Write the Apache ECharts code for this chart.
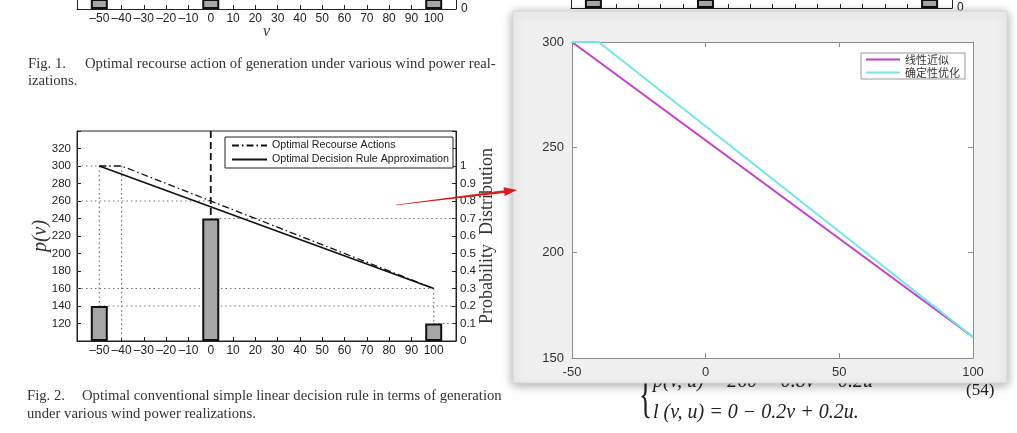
<!DOCTYPE html>
<html>
<head>
<meta charset="utf-8">
<title>p(v)</title>
<script src="https://cdn.jsdelivr.net/npm/echarts@6/dist/echarts.min.js"></script>
<style>
  html, body { margin: 0; padding: 0; background: #fff; }
  #main { width: 1017px; height: 433px; }
</style>
</head>
<body>
<div id="main"></div>
<script>
// ---- Fig. 2 (paper figure) ----
var windV = [-50, 0, 100];          // wind power realizations
var windProb = [0.2, 0.7, 0.1];     // probability of each realization
var ruleV = [-50, 100];
var ruleP = [300, 160];             // optimal decision rule approximation
var recourseV = [-50, -40, 100];
var recourseP = [300, 300, 160];    // optimal recourse actions
var jumpV = [0, 0];
var jumpP = [340, 244];             // dashed jump at v = 0
// dotted helper lines, [v, p] pairs
var guideLines = [
    [[-60, 300], [-50, 300]],
    [[-50, 300], [-50, 100]],
    [[-40, 300], [-40, 100]],
    [[-60, 260], [0, 260]],
    [[-60, 160], [100, 160]],
    [[100, 160], [100, 100]]
];
var vRange = [-60, 110];
var pRange = [100, 340];
var probRange = [0, 1.2];
var fig2Names = ['Optimal Recourse Actions', 'Optimal Decision Rule Approximation'];

// ---- overlay window (MATLAB figure) ----
var nearV = [-50, 100];
var nearP = [300, 160];
var detV = [-50, -40, 100];
var detP = [300, 300, 160];
var overlayNames = ['线性近似', '确定性优化'];
var overlayXRange = [-50, 100];
var overlayYRange = [150, 300];

var chart = echarts.init(document.getElementById('main'));

function pairs(xs, ys) {
    return xs.map(function (x, i) { return [x, ys[i]]; });
}
function minus(v) {
    return v < 0 ? '\u2013' + (-v) : String(v);
}
var sans = 'Liberation Sans';
var serif = 'Liberation Serif';
var ink = '#222';

// dotted guides
var guideSeries = guideLines.map(function (g) {
    return {
        type: 'line', xAxisIndex: 0, yAxisIndex: 0, data: g, symbol: 'none', silent: true,
        lineStyle: { color: '#777', width: 1.2, type: [1.5, 3] }, z: 1
    };
});
var barGuideSeries = windV.map(function (v, i) {
    return {
        type: 'line', xAxisIndex: 0, yAxisIndex: 1, data: [[v, windProb[i]], [vRange[1], windProb[i]]],
        symbol: 'none', silent: true, lineStyle: { color: '#777', width: 1.2, type: [1.5, 3] }, z: 1
    };
});

function vLabel(v) {
    return (v < -50 || v > 100) ? '' : minus(v);
}

function stubAxes(gridIdx) {
    return {
        x: {
            type: 'value', gridIndex: gridIdx, min: vRange[0], max: vRange[1], interval: 10,
            axisLine: { onZero: false, lineStyle: { color: ink, width: 1 } },
            axisTick: { inside: true, length: 4, lineStyle: { color: ink } },
            splitLine: { show: false },
            axisLabel: { margin: 4, color: ink, fontFamily: sans, fontSize: 12, formatter: vLabel },
            name: 'v', nameLocation: 'middle', nameGap: 15, nameMoveOverlap: false,
            nameTextStyle: { fontFamily: serif, fontStyle: 'italic', fontSize: 16, color: '#333' }
        },
        yl: {
            type: 'value', gridIndex: gridIdx, position: 'left', min: 0, max: 0.05,
            axisLine: { show: true, onZero: false, lineStyle: { color: ink } }, axisTick: { show: false },
            axisLabel: { show: false }, splitLine: { show: false }
        },
        yr: {
            type: 'value', gridIndex: gridIdx, position: 'right', min: 0, max: 0.05, interval: 0.05,
            axisLine: { show: true, onZero: false, lineStyle: { color: ink } }, axisTick: { show: false },
            axisLabel: {
                margin: 5, color: ink, fontFamily: sans, fontSize: 12,
                formatter: function (v) { return v === 0 ? '0' : ''; }
            },
            splitLine: { show: false }
        }
    };
}
var stubA = stubAxes(1);
var stubB = stubAxes(2);
stubB.x.axisLabel.show = false;
stubB.x.name = '';

var barStyle = { color: '#a6a6a6', borderColor: '#111', borderWidth: 2 };

// tapered red arrow
function arrowPoints(x0, y0, x1, y1) {
    var dx = x1 - x0, dy = y1 - y0, len = Math.sqrt(dx * dx + dy * dy);
    var ux = dx / len, uy = dy / len, nx = -uy, ny = ux;
    var head = 13, hw = 4.5, w0 = 0.3, w1 = 1.4;
    var bx = x1 - ux * head, by = y1 - uy * head;
    return [
        [x0 + nx * w0, y0 + ny * w0], [bx + nx * w1, by + ny * w1], [bx + nx * hw, by + ny * hw],
        [x1, y1],
        [bx - nx * hw, by - ny * hw], [bx - nx * w1, by - ny * w1], [x0 - nx * w0, y0 - ny * w0]
    ];
}

var capFont = '14.7px "Liberation Serif"';
var eqFont = 'italic 20px "Liberation Serif"';

var option = {
    backgroundColor: '#fff',
    animation: false,
    grid: [
        { left: 77, top: 131, width: 379, height: 210, show: true, borderColor: ink, borderWidth: 1, backgroundColor: 'transparent' },
        { left: 77, top: 0, width: 379, height: 9 },
        { left: 571, top: 0, width: 381, height: 8 },
        { left: 572, top: 42, width: 401, height: 316, show: true, backgroundColor: '#fff', borderWidth: 0, zlevel: 1, z: 1 }
    ],
    xAxis: [
        {
            type: 'value', gridIndex: 0, min: vRange[0], max: vRange[1], interval: 10,
            axisLine: { onZero: false, lineStyle: { color: ink } },
            axisTick: { inside: true, length: 4, lineStyle: { color: ink } },
            splitLine: { show: false },
            axisLabel: { margin: 4, color: ink, fontFamily: sans, fontSize: 12, formatter: vLabel }
        },
        stubA.x,
        stubB.x,
        {
            type: 'value', gridIndex: 3, min: overlayXRange[0], max: overlayXRange[1], interval: 50,
            zlevel: 1, z: 2,
            axisLine: { onZero: false, lineStyle: { color: '#8c8c8c' } },
            axisTick: { inside: true, length: 5, lineStyle: { color: '#8c8c8c' } },
            splitLine: { show: false },
            axisLabel: { margin: 8, color: '#333', fontFamily: sans, fontSize: 13, formatter: function (v) { return String(v); } }
        },
        {
            type: 'value', gridIndex: 3, position: 'top', min: overlayXRange[0], max: overlayXRange[1], interval: 50,
            zlevel: 1, z: 2,
            axisLine: { onZero: false, lineStyle: { color: '#8c8c8c' } },
            axisTick: { inside: true, length: 5, lineStyle: { color: '#8c8c8c' } },
            splitLine: { show: false }, axisLabel: { show: false }
        }
    ],
    yAxis: [
        {
            type: 'value', gridIndex: 0, position: 'left', min: pRange[0], max: pRange[1], interval: 20,
            axisLine: { show: true, onZero: false, lineStyle: { color: ink } },
            axisTick: { show: true, inside: true, length: 4, lineStyle: { color: ink } },
            splitLine: { show: false },
            axisLabel: {
                margin: 6, color: ink, fontFamily: sans, fontSize: 11.5,
                formatter: function (v) { return (v <= pRange[0] || v >= pRange[1]) ? '' : String(v); }
            },
            name: 'p(v)', nameLocation: 'middle', nameRotate: 90, nameGap: 26, nameMoveOverlap: false,
            nameTextStyle: { fontFamily: serif, fontStyle: 'italic', fontSize: 20, color: '#333' }
        },
        {
            type: 'value', gridIndex: 0, position: 'right', min: probRange[0], max: probRange[1], interval: 0.1,
            axisLine: { show: true, onZero: false, lineStyle: { color: ink } },
            axisTick: { show: true, inside: true, length: 4, lineStyle: { color: ink } },
            splitLine: { show: false },
            axisLabel: {
                margin: 4, color: ink, fontFamily: sans, fontSize: 11.5,
                formatter: function (v) {
                    var r = Math.round(v * 10) / 10;
                    if (r > 1) return '';
                    return (r === 0 || r === 1) ? String(r) : r.toFixed(1);
                }
            },
            name: 'Probability  Distribution', nameLocation: 'middle', nameRotate: 90, nameGap: 22, nameMoveOverlap: false,
            nameTextStyle: { fontFamily: serif, fontSize: 18, color: '#333' }
        },
        stubA.yl, stubA.yr, stubB.yl, stubB.yr,
        {
            type: 'value', gridIndex: 3, position: 'left', min: overlayYRange[0], max: overlayYRange[1], interval: 50,
            zlevel: 1, z: 2,
            axisLine: { show: true, onZero: false, lineStyle: { color: '#8c8c8c' } },
            axisTick: { show: true, inside: true, length: 5, lineStyle: { color: '#8c8c8c' } },
            splitLine: { show: false },
            axisLabel: { margin: 8, color: '#333', fontFamily: sans, fontSize: 13 }
        },
        {
            type: 'value', gridIndex: 3, position: 'right', min: overlayYRange[0], max: overlayYRange[1], interval: 50,
            zlevel: 1, z: 2,
            axisLine: { show: true, onZero: false, lineStyle: { color: '#8c8c8c' } },
            axisTick: { show: true, inside: true, length: 5, lineStyle: { color: '#8c8c8c' } },
            splitLine: { show: false }, axisLabel: { show: false }
        }
    ],
    legend: [
        {
            data: fig2Names, orient: 'vertical', left: 225, top: 137, selectedMode: false,
            itemWidth: 35, itemHeight: 10, itemGap: 3, padding: [3, 4, 3, 6],
            itemStyle: { opacity: 0 },
            borderColor: ink, borderWidth: 1, backgroundColor: '#fff',
            textStyle: { fontFamily: sans, fontSize: 10.7, color: ink }
        },
        {
            data: overlayNames, orient: 'vertical', left: 861, top: 53, selectedMode: false,
            zlevel: 1, z: 5,
            itemWidth: 34, itemHeight: 10, itemGap: 2, padding: [1, 5, 1, 4],
            itemStyle: { opacity: 0 },
            borderColor: '#999', borderWidth: 1, backgroundColor: '#fff',
            textStyle: { fontFamily: 'Noto Sans CJK SC', fontSize: 11, color: '#333' }
        }
    ],
    series: guideSeries.concat(barGuideSeries).concat([
        {
            type: 'bar', xAxisIndex: 0, yAxisIndex: 1, data: pairs(windV, windProb), barWidth: 17,
            itemStyle: barStyle, silent: true, z: 3
        },
        {
            name: fig2Names[0], type: 'line', xAxisIndex: 0, yAxisIndex: 0, data: pairs(recourseV, recourseP),
            symbol: 'none', lineStyle: { color: '#111', width: 1.3, type: [7, 3, 1.5, 3] }, itemStyle: { color: '#111' }, z: 4
        },
        {
            name: fig2Names[1], type: 'line', xAxisIndex: 0, yAxisIndex: 0, data: pairs(ruleV, ruleP),
            symbol: 'none', lineStyle: { color: '#111', width: 1.6 }, itemStyle: { color: '#111' }, z: 4
        },
        {
            type: 'line', xAxisIndex: 0, yAxisIndex: 0, data: pairs(jumpV, jumpP), symbol: 'none', silent: true,
            lineStyle: { color: '#111', width: 1.8, type: [7, 4] }, z: 4
        },
        { type: 'bar', xAxisIndex: 1, yAxisIndex: 3, data: pairs(windV, windProb), barWidth: 17, itemStyle: barStyle, silent: true },
        { type: 'bar', xAxisIndex: 2, yAxisIndex: 5, data: pairs(windV, windProb), barWidth: 17, itemStyle: barStyle, silent: true },
        {
            name: overlayNames[0], type: 'line', xAxisIndex: 3, yAxisIndex: 6, data: pairs(nearV, nearP),
            symbol: 'none', zlevel: 1, z: 3, lineStyle: { color: '#c23fc8', width: 2 }, itemStyle: { color: '#c23fc8' }
        },
        {
            name: overlayNames[1], type: 'line', xAxisIndex: 3, yAxisIndex: 6, data: pairs(detV, detP),
            symbol: 'none', zlevel: 1, z: 3, lineStyle: { color: '#74e6e6', width: 2 }, itemStyle: { color: '#74e6e6' }
        }
    ]),
    graphic: [
        // paper text
        { type: 'text', left: 28, top: 57, zlevel: 0, style: { text: 'Fig. 1.', font: capFont, fill: '#333' } },
        { type: 'text', left: 85, top: 57, zlevel: 0, style: { text: 'Optimal recourse action of generation under various wind power real-', font: capFont, fill: '#333' } },
        { type: 'text', left: 28, top: 74, zlevel: 0, style: { text: 'izations.', font: capFont, fill: '#333' } },
        { type: 'text', left: 27, top: 389, zlevel: 0, style: { text: 'Fig. 2.', font: capFont, fill: '#333' } },
        { type: 'text', left: 82, top: 389, zlevel: 0, style: { text: 'Optimal conventional simple linear decision rule in terms of generation', font: capFont, fill: '#333' } },
        { type: 'text', left: 27, top: 407, zlevel: 0, style: { text: 'under various wind power realizations.', font: capFont, fill: '#333' } },
        { type: 'text', x: 639, y: 373, scaleX: 0.55, zlevel: 0, style: { text: '{', font: '50px "Liberation Serif"', fill: ink } },
        { type: 'text', left: 653, top: 372, zlevel: 0, style: { text: 'p(v, u) = 260 \u2212 0.8v \u2212 0.2u', font: eqFont, fill: ink } },
        { type: 'text', left: 653, top: 403, zlevel: 0, style: { text: 'l (v, u) = 0 \u2212 0.2v + 0.2u.', font: eqFont, fill: ink } },
        { type: 'text', left: 966, top: 382, zlevel: 0, style: { text: '(54)', font: '17px "Liberation Serif"', fill: ink } },
        // overlay window
        {
            type: 'rect', zlevel: 1, z: 0, shape: { x: 513, y: 11, width: 494, height: 372 },
            style: { fill: '#f0f0f0', stroke: '#d6d6d6', lineWidth: 1, shadowBlur: 10, shadowColor: 'rgba(0,0,0,0.35)', shadowOffsetY: 2 }
        },
        {
            type: 'polygon', zlevel: 2, shape: { points: arrowPoints(396, 205, 517, 190) },
            style: { fill: '#d81e1e' }
        }
    ]
};
chart.setOption(option);
</script>
</body>
</html>
